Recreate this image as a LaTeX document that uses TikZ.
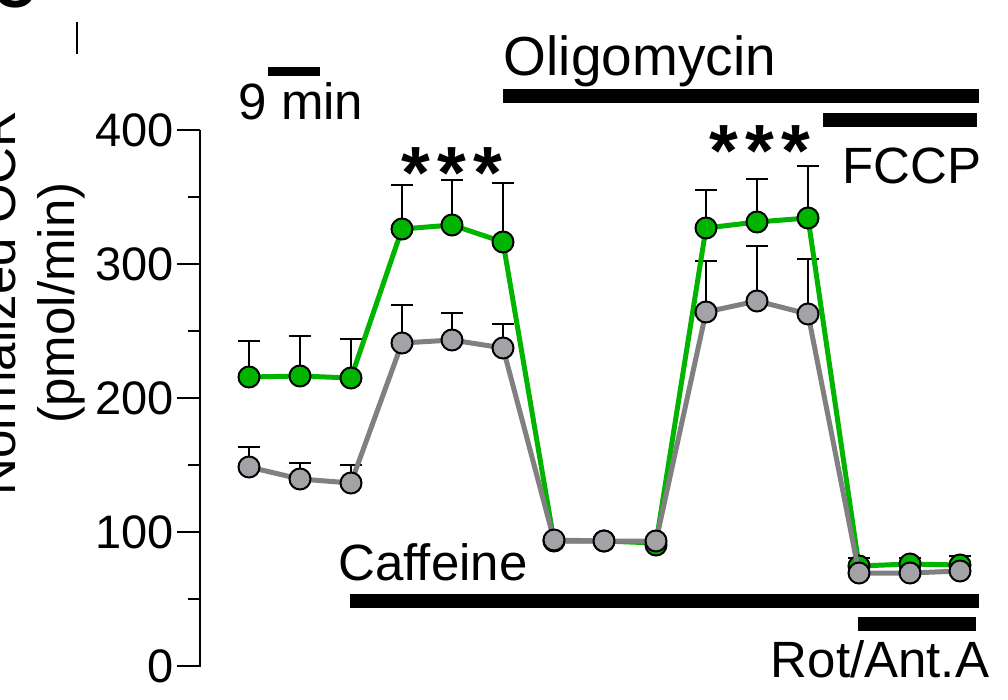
\documentclass[tikz,border=0pt]{standalone}
\usepackage{fontspec}
\setmainfont{Liberation Sans}
\definecolor{gr}{HTML}{00B400}
\definecolor{gy}{HTML}{808080}
\definecolor{gyf}{HTML}{A3A3A7}
\begin{document}
\begin{tikzpicture}[x=1pt,y=-1pt,
  lab/.style={font=\fontsize{51}{51}\selectfont, inner sep=0pt},
  tlab/.style={font=\fontsize{47}{47}\selectfont, inner sep=0pt, anchor=east},
  star/.style={font=\fontsize{74}{74}\selectfont\bfseries, inner sep=0pt, anchor=base},
  bar/.style={line width=14pt},
  eb/.style={line width=2pt},
  gline/.style={gr, line width=5pt, line join=round},
  yline/.style={gy, line width=5pt, line join=round},
  gdot/.style={circle, draw=black, line width=2pt, fill=gr, minimum size=21pt, inner sep=0pt},
  ydot/.style={circle, draw=black, line width=2pt, fill=gyf, minimum size=21pt, inner sep=0pt}]
\useasboundingbox (0,0) rectangle (1008,700);
\clip (0,0) rectangle (1008,700);
% panel letter and mark
\node[font=\fontsize{60}{60}\selectfont\bfseries, inner sep=0pt, anchor=base] (pl) at (14,8) {C};
\draw[line width=2pt] (77,22) -- (77,54);
% y label
\node[lab, rotate=90, anchor=base] (yl1) at (16,303) {Normalized OCR};
\node[lab, rotate=90, anchor=base] (yl2) at (74,303) {(pmol/min)};
% axis
\draw[line width=2pt] (200,130) -- (200,667);
\foreach \v/\y in {0/666,100/532,200/398,300/264,400/130}{
  \draw[line width=2pt] (177,\y) -- (200,\y);
  \node[tlab] at (174,\y) {\v};}
\foreach \y in {599,465,331,197}{\draw[line width=2pt] (188,\y) -- (200,\y);}
% scale bar
\draw[line width=9pt] (268,72) -- (320,72);
\node[lab, anchor=base] (sc) at (301,120) {9 min};
% treatment bars
\draw[bar] (503,96) -- (979,96);
\node[font=\fontsize{55}{55}\selectfont, inner sep=0pt, anchor=base] (ol) at (640,76) {Oligomycin};
\draw[bar] (823,120) -- (977,120);
\node[lab, anchor=base] (fc) at (912,184) {FCCP};
\draw[bar] (350,601) -- (979,601);
\node[lab, anchor=base] (ca) at (433,580) {Caffeine};
\draw[bar] (858,624) -- (976,624);
\node[lab, anchor=base] (ra) at (880,677) {Rot/Ant.A};
% stars
\node[star] (s1) at (452,199) {*\hspace{7pt}*\hspace{7pt}*};
\node[star] (s2) at (760,177) {*\hspace{7pt}*\hspace{7pt}*};
% error bars
\foreach \x/\a/\b in {249/377/341,300/376/336,351/378/339,402/229/185,452/225/180,503/242/183,
   706/228/190,757/222/179,808/218/166,859/566/558,910/564/558,960/565/556,
   249/467/447,300/479/463,351/483/465,402/343/305,452/340/313,503/348/324,
   706/312/261,757/301/246,808/314/259}{
  \draw[eb] (\x,\a) -- (\x,\b) (\x-11,\b) -- (\x+11,\b);}
% green series
\draw[gline] (249,377) -- (300,376) -- (351,378) -- (402,229) -- (452,225) -- (503,242) -- (554,541) -- (604,541) -- (656,543) -- (706,228) -- (757,222) -- (808,218) -- (859,566) -- (910,564) -- (960,565);
\foreach \x/\y in {249/377,300/376,351/378,402/229,452/225,503/242,554/541,604/541,656/545,706/228,757/222,808/218,859/566,910/564,960/565}{
  \node[gdot] at (\x,\y) {};}
% gray series
\draw[yline] (249,467) -- (300,479) -- (351,483) -- (402,343) -- (452,340) -- (503,348) -- (554,540) -- (604,541) -- (656,541) -- (706,312) -- (757,301) -- (808,314) -- (859,573) -- (910,573) -- (960,571);
\foreach \x/\y in {249/467,300/479,351/483,402/343,452/340,503/348,554/540,604/541,656/541,706/312,757/301,808/314,859/573,910/573,960/571}{
  \node[ydot] at (\x,\y) {};}
\end{tikzpicture}
\end{document}
